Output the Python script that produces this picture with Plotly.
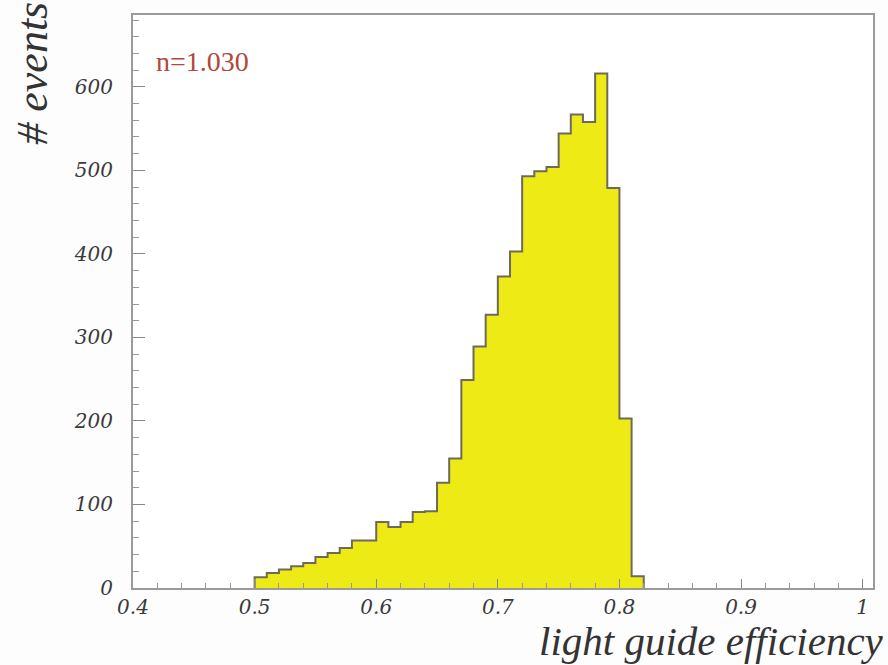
import plotly.graph_objects as go

# histogram bins (lower edges) and counts, bin width 0.01
bin_low = [0.50, 0.51, 0.52, 0.53, 0.54, 0.55, 0.56, 0.57, 0.58, 0.59,
           0.60, 0.61, 0.62, 0.63, 0.64, 0.65, 0.66, 0.67, 0.68, 0.69,
           0.70, 0.71, 0.72, 0.73, 0.74, 0.75, 0.76, 0.77, 0.78, 0.79,
           0.80, 0.81]
counts = [13, 18, 22, 26, 30, 37, 42, 48, 57, 57,
          79, 73, 79, 91, 92, 126, 155, 249, 289, 327,
          373, 403, 493, 499, 504, 544, 567, 558, 616, 479,
          203, 14]
bin_width = 0.01
x_ticks = [0.4, 0.5, 0.6, 0.7, 0.8, 0.9, 1.0]
x_ticklabels = ["0.4", "0.5", "0.6", "0.7", "0.8", "0.9", "1"]
y_ticks = [0, 100, 200, 300, 400, 500, 600]
y_ticklabels = ["0", "100", "200", "300", "400", "500", "600"]

# step outline: left edges plus final right edge
xs = [bin_low[0]] + bin_low + [round(bin_low[-1] + bin_width, 4)]
ys = [0] + counts + [counts[-1]]
xs = xs + [xs[-1]]
ys = ys + [0]

fig = go.Figure()
fig.add_trace(go.Scatter(
    x=xs, y=ys, mode="lines", line_shape="hv",
    line=dict(color="#6e6a5a", width=2),
    fill="tozeroy", fillcolor="#eeea16",
    hoverinfo="skip", showlegend=False,
))

tickfont = dict(family="DejaVu Serif", size=20, color="#3a3a3a", style="italic")

fig.update_layout(
    width=888, height=665,
    margin=dict(l=133, r=15, t=15, b=77),
    paper_bgcolor="#fdfdfd", plot_bgcolor="#ffffff",
    xaxis=dict(
        range=[0.4, 1.0085], tickvals=x_ticks,
        ticktext=["<i>%s</i>" % t for t in x_ticklabels],
        ticks="inside", ticklen=9, tickwidth=1, tickcolor="#888888",
        minor=dict(dtick=0.02, tick0=0.4, ticks="inside", ticklen=5, tickcolor="#999999"),
        showgrid=False, zeroline=False,
        showline=True, linecolor="#9a9a9a", linewidth=2, mirror=True,
        tickfont=tickfont, ticklabelstandoff=0,
    ),
    yaxis=dict(
        range=[0, 686], tickvals=y_ticks,
        ticktext=["<i>%s</i>" % t for t in y_ticklabels],
        ticks="inside", ticklen=12, tickwidth=1, tickcolor="#888888",
        minor=dict(dtick=20, tick0=0, ticks="inside", ticklen=6, tickcolor="#999999"),
        showgrid=False, zeroline=False,
        showline=True, linecolor="#9a9a9a", linewidth=2, mirror=True,
        tickfont=tickfont, ticklabelstandoff=14,
    ),
    annotations=[
        dict(text="<i># events</i>", xref="paper", yref="paper", x=-0.135, y=1.026,
             xanchor="center", yanchor="top", textangle=-90, showarrow=False,
             font=dict(family="Liberation Serif", size=44, color="#333333")),
        dict(text="<i>light guide efficiency</i>", xref="paper", yref="paper", x=1.017, y=-0.092,
             xanchor="right", yanchor="middle", showarrow=False,
             font=dict(family="Liberation Serif", size=41, color="#333333")),
        dict(text="n=1.030", xref="paper", yref="paper", x=0.028, y=0.918,
             xanchor="left", yanchor="middle", showarrow=False,
             font=dict(family="Liberation Serif", size=28, color="#b2473c")),
    ],
)

fig.write_html("out.html")
